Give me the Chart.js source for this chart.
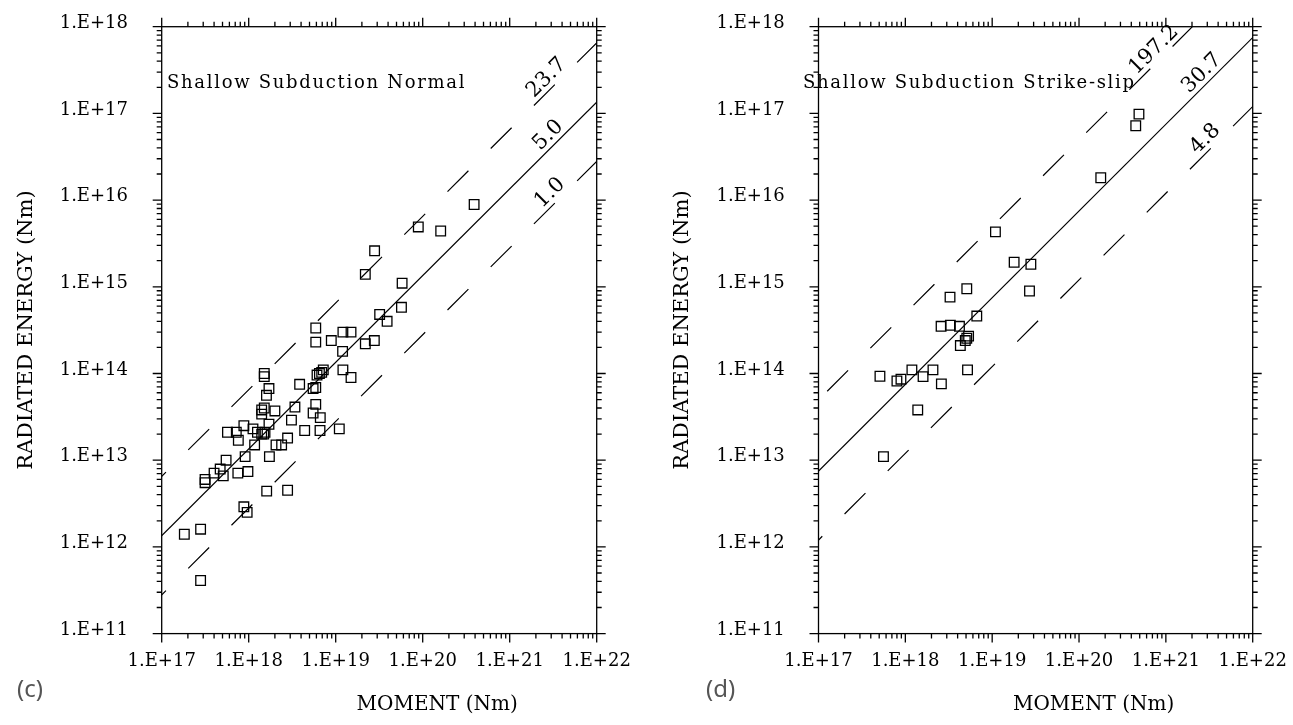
<!DOCTYPE html>
<html><head><meta charset="utf-8">
<script src="https://cdn.jsdelivr.net/npm/chart.js@4"></script>
<style>
html,body{margin:0;padding:0;background:#fff;width:1293px;height:725px;overflow:hidden}
.panel{position:absolute;top:0;height:725px}
#p1{left:0;width:646px}
#p2{left:646px;width:647px}
canvas{display:block}
</style></head><body>
<div class="panel" id="p1"><canvas id="c1" width="646" height="725"></canvas></div>
<div class="panel" id="p2"><canvas id="c2" width="647" height="725"></canvas></div>
<script>
// ---- tick values / labels ----
const xTickValues = [1e17, 1e18, 1e19, 1e20, 1e21, 1e22];
const xTickLabels = ['1.E+17', '1.E+18', '1.E+19', '1.E+20', '1.E+21', '1.E+22'];
const yTickValues = [1e11, 1e12, 1e13, 1e14, 1e15, 1e16, 1e17, 1e18];
const yTickLabels = ['1.E+11', '1.E+12', '1.E+13', '1.E+14', '1.E+15', '1.E+16', '1.E+17', '1.E+18'];
const minorSteps = [2, 3, 4, 5, 6, 7, 8, 9];

// ---- (c) Shallow Subduction Normal ----
const normalMoment = [1.82e17, 2.8e17, 2.8e17, 3.15e17, 3.15e17, 4.0e17, 4.7e17, 5.1e17, 5.5e17, 5.7e17,
  7.2e17, 7.6e17, 7.5e17, 8.8e17, 9.1e17, 9.8e17, 8.8e17, 9.6e17, 1.12e18, 1.17e18,
  1.26e18, 1.41e18, 1.49e18, 1.54e18, 1.71e18, 1.73e18, 1.61e18, 2.06e18, 2.39e18, 2.8e18,
  2.8e18, 3.1e18, 4.4e18, 6.6e18, 1.1e19, 6.65e18, 5.5e18, 5.9e18, 3.4e18, 2.0e18,
  1.51e18, 1.41e18, 1.41e18, 1.6e18, 1.71e18, 1.51e18, 1.51e18, 3.85e18, 5.5e18, 5.9e18,
  6.1e18, 6.5e18, 6.9e18, 7.2e18, 1.21e19, 1.5e19, 5.9e18, 5.9e18, 8.9e18, 1.21e19,
  1.5e19, 1.2e19, 2.19e19, 2.78e19, 3.2e19, 3.9e19, 2.19e19, 2.8e19, 5.8e19, 5.7e19,
  8.9e19, 1.61e20, 3.9e20];
const normalEnergy = [1.40e12, 1.6e12, 4.1e11, 6.0e12, 5.5e12, 7.1e12, 7.9e12, 6.6e12, 1.0e13, 2.1e13,
  2.1e13, 1.7e13, 7.1e12, 2.5e13, 1.1e13, 7.4e12, 2.9e12, 2.5e12, 2.3e13, 1.5e13,
  2.1e13, 2.0e13, 2.0e13, 2.1e13, 2.6e13, 1.1e13, 4.4e12, 1.5e13, 1.5e13, 1.8e13,
  4.5e12, 2.9e13, 2.2e13, 2.2e13, 2.3e13, 3.1e13, 3.5e13, 4.4e13, 4.1e13, 3.7e13,
  4.0e13, 3.8e13, 3.4e13, 5.6e13, 6.7e13, 1.0e14, 9.2e13, 7.5e13, 6.7e13, 6.9e13,
  9.6e13, 1.0e14, 1.03e14, 1.1e14, 1.1e14, 9.0e13, 3.35e14, 2.3e14, 2.4e14, 3.0e14,
  3.0e14, 1.8e14, 2.2e14, 2.4e14, 4.8e14, 4.0e14, 1.39e15, 2.6e15, 1.1e15, 5.8e14,
  4.9e15, 4.4e15, 8.9e15];
const normalLineLabels = ['23.7', '5.0', '1.0'];
const normalLineRatios = [6.5e-5, 1.35e-5, 2.8e-6];
const normalLabelAt = [2.66e21, 2.78e21, 2.9e21];
const normalDashStart = [2.02e17, null, 2.02e17];

// ---- (d) Shallow Subduction Strike-slip ----
const strikeMoment = [5.6e17, 5.1e17, 8.0e17, 8.9e17, 1.19e18, 1.6e18, 2.08e18, 2.6e18, 5.2e18, 1.39e18,
  2.58e18, 3.3e18, 4.2e18, 5.35e18, 5.1e18, 4.9e18, 4.3e18, 6.65e18, 3.27e18, 5.1e18,
  1.09e19, 1.79e19, 2.79e19, 2.69e19, 1.78e20, 4.5e20, 4.9e20];
const strikeEnergy = [1.1e13, 9.3e13, 8.2e13, 8.6e13, 1.1e14, 9.2e13, 1.1e14, 7.6e13, 1.1e14, 3.8e13,
  3.5e14, 3.6e14, 3.5e14, 2.7e14, 2.55e14, 2.4e14, 2.1e14, 4.6e14, 7.6e14, 9.5e14,
  4.3e15, 1.92e15, 1.82e15, 8.95e14, 1.81e16, 7.2e16, 9.8e16];
const strikeLineLabels = ['197.2', '30.7', '4.8'];
const strikeLineRatios = [4.95e-4, 7.5e-5, 1.2e-5];
const strikeLabelAt = [7.3e20, 2.6e21, 2.84e21];
const strikeDashStart = [1.26e17, null, 6.27e17];

const lineDashed = [true, false, true];
const DASH = [29.5, 31.5];
const SERIF = '"DejaVu Serif", "Liberation Serif", serif';

const framePlugin = {
  id: 'frame',
  afterDraw(chart) {
    const {ctx, chartArea: a, scales: {x, y}} = chart;
    ctx.save();
    ctx.strokeStyle = '#000';
    ctx.lineWidth = 1.3;
    ctx.strokeRect(a.left, a.top, a.right - a.left, a.bottom - a.top);
    ctx.beginPath();
    xTickValues.forEach((d, i) => {
      const vals = [[d, 9]];
      if (i < xTickValues.length - 1) minorSteps.forEach(m => vals.push([m * d, 5]));
      vals.forEach(([v, L]) => {
        const px = x.getPixelForValue(v);
        ctx.moveTo(px, a.bottom); ctx.lineTo(px, a.bottom + L);
        ctx.moveTo(px, a.top); ctx.lineTo(px, a.top - L);
      });
    });
    yTickValues.forEach((d, i) => {
      const vals = [[d, 9]];
      if (i < yTickValues.length - 1) minorSteps.forEach(m => vals.push([m * d, 5]));
      vals.forEach(([v, L]) => {
        const py = y.getPixelForValue(v);
        ctx.moveTo(a.left, py); ctx.lineTo(a.left - L, py);
        ctx.moveTo(a.right, py); ctx.lineTo(a.right + L, py);
      });
    });
    ctx.stroke();
    ctx.restore();
  }
};

function textPlugin(opt) {
  return {
    id: 'texts',
    afterDraw(chart) {
      const {ctx, chartArea: a, scales: {x, y}} = chart;
      ctx.save();
      ctx.fillStyle = '#000';
      // panel annotation
      ctx.font = '18px ' + SERIF;
      try { ctx.letterSpacing = '1.7px'; } catch (e) {}
      ctx.textAlign = 'left'; ctx.textBaseline = 'alphabetic';
      ctx.fillText(opt.title, opt.titleX, 88);
      try { ctx.letterSpacing = '0px'; } catch (e) {}
      // line labels
      ctx.font = '21px ' + SERIF;
      ctx.textAlign = 'center'; ctx.textBaseline = 'middle';
      opt.ratios.forEach((r, i) => {
        const m = opt.labelAt[i];
        const px = x.getPixelForValue(m), py = y.getPixelForValue(r * m);
        const qx = x.getPixelForValue(m * 10), qy = y.getPixelForValue(r * m * 10);
        const ang = Math.atan2(qy - py, qx - px);
        ctx.save();
        ctx.translate(px, py - 15);
        ctx.rotate(ang);
        ctx.fillText(opt.labels[i], 0, 0);
        ctx.restore();
      });
      // axis titles
      ctx.font = '20px ' + SERIF;
      ctx.fillText('MOMENT (Nm)', (a.left + a.right) / 2 + 58, 705);
      ctx.save();
      ctx.font = '21px ' + SERIF;
      ctx.translate(a.left - 135.6, (a.top + a.bottom) / 2);
      ctx.rotate(-Math.PI / 2);
      ctx.fillText('RADIATED ENERGY (Nm)', 0, 0);
      ctx.restore();
      // panel letter
      ctx.font = '24px "Noto Sans", "Open Sans", sans-serif';
      ctx.fillStyle = '#555';
      ctx.textAlign = 'left'; ctx.textBaseline = 'alphabetic';
      ctx.fillText(opt.letter, opt.letterX, 697);
      ctx.restore();
    }
  };
}

function zeroPadding(s) {
  s.paddingTop = 0; s.paddingBottom = 0; s.paddingLeft = 0; s.paddingRight = 0;
}

function makeChart(id, area, moments, energies, ratios, labels, labelAt, dashStart, title, titleX, letter, letterX) {
  const canvas = document.getElementById(id);
  const W = canvas.width, H = canvas.height;
  const xMin = 1e17, xMax = 1e22, yMin = 1e11, yMax = 1e18;
  const pxDec = (area.right - area.left) / Math.log10(xMax / xMin);
  const pyDec = (area.bottom - area.top) / Math.log10(yMax / yMin);
  const lineStart = 1e16, lineEnd = 1e23;
  const period = DASH[0] + DASH[1];
  const datasets = ratios.map((r, i) => {
    let offset = 0;
    if (lineDashed[i] && dashStart[i]) {
      const dist = Math.log10(dashStart[i] / lineStart) * Math.hypot(pxDec, pyDec);
      offset = period - (dist % period);
    }
    return {
      type: 'line',
      data: [{x: lineStart, y: r * lineStart}, {x: lineEnd, y: r * lineEnd}],
      borderColor: '#000', borderWidth: 1.2,
      borderDash: lineDashed[i] ? DASH : [],
      borderDashOffset: offset,
      pointRadius: 0, fill: false, tension: 0
    };
  });
  datasets.push({
    type: 'scatter',
    data: moments.map((m, i) => ({x: m, y: energies[i]})),
    pointStyle: 'rect', pointRadius: 6.8, pointBorderWidth: 1.3,
    borderColor: '#000', backgroundColor: 'rgba(0,0,0,0)',
    pointBackgroundColor: 'rgba(0,0,0,0)', pointBorderColor: '#000'
  });
  return new Chart(canvas.getContext('2d'), {
    type: 'scatter',
    data: {datasets},
    options: {
      responsive: false, animation: false, devicePixelRatio: 1,
      layout: {autoPadding: false, padding: {top: area.top, right: W - area.right, left: 0, bottom: 0}},
      plugins: {legend: {display: false}, tooltip: {enabled: false}, title: {display: false}},
      scales: {
        x: {
          type: 'logarithmic', position: 'bottom', min: xMin, max: xMax,
          afterBuildTicks: s => { s.ticks = xTickValues.map(v => ({value: v})); },
          afterFit: s => { s.height = H - area.bottom; zeroPadding(s); },
          grid: {display: false, drawTicks: false}, border: {display: false},
          ticks: {padding: 16.5, color: '#000', font: {family: SERIF, size: 18},
            maxRotation: 0, minRotation: 0, autoSkip: false,
            callback: (v, i) => xTickLabels[i]}
        },
        y: {
          type: 'logarithmic', position: 'left', min: yMin, max: yMax,
          afterBuildTicks: s => { s.ticks = yTickValues.map(v => ({value: v})); },
          afterFit: s => { s.width = area.left; zeroPadding(s); },
          grid: {display: false, drawTicks: false}, border: {display: false},
          ticks: {padding: 33.7, labelOffset: -3.5, color: '#000', font: {family: SERIF, size: 18},
            autoSkip: false, callback: (v, i) => yTickLabels[i]}
        }
      }
    },
    plugins: [framePlugin, textPlugin({title, titleX, ratios, labels, labelAt, letter, letterX})]
  });
}

makeChart('c1', {left: 161.7, right: 596.7, top: 26.7, bottom: 633.6},
  normalMoment, normalEnergy, normalLineRatios, normalLineLabels, normalLabelAt, normalDashStart,
  'Shallow Subduction Normal', 167, '(c)', 17);
makeChart('c2', {left: 172.5, right: 606.7, top: 26.7, bottom: 633.6},
  strikeMoment, strikeEnergy, strikeLineRatios, strikeLineLabels, strikeLabelAt, strikeDashStart,
  'Shallow Subduction Strike-slip', 157, '(d)', 60);
</script>
</body></html>
